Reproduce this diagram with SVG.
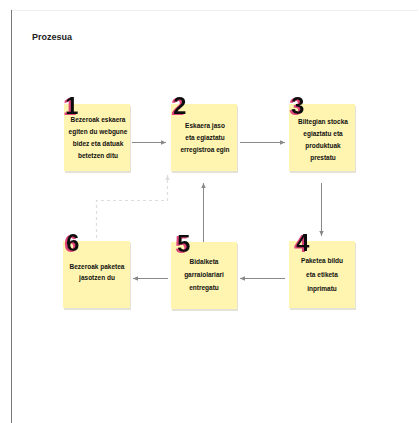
<svg xmlns="http://www.w3.org/2000/svg" width="419" height="423" viewBox="0 0 419 423">
<defs>
<style>
.note{fill:#fff5b0}
.shadow{fill:#e4e2d6}
.num{font-family:"Liberation Sans",Arial,sans-serif;font-weight:bold;font-size:24px;fill:#111;filter:url(#pink)}
.txt{font-family:"Liberation Sans",Arial,sans-serif;font-size:6.5px;fill:#111;text-anchor:middle;font-weight:bold}
.conn{stroke:#888;stroke-width:1;fill:none}
.dash{stroke:#ddd;stroke-width:1.2;fill:none;stroke-dasharray:3,3}
.title{font-family:"Liberation Sans",Arial,sans-serif;font-weight:bold;font-size:9px;fill:#222}
</style>
<filter id="pink" x="-30%" y="-30%" width="160%" height="160%">
<feOffset in="SourceAlpha" dx="-2.5" dy="1" result="off"/>
<feFlood flood-color="#e0447a" result="col"/>
<feComposite in="col" in2="off" operator="in" result="sh"/>
<feMerge><feMergeNode in="sh"/><feMergeNode in="SourceGraphic"/></feMerge>
</filter>
<marker id="ah" markerWidth="6" markerHeight="6" refX="5" refY="3" orient="auto" markerUnits="userSpaceOnUse">
<path d="M0,0.8 L5,3 L0,5.2 Z" fill="#888"/>
</marker>
<marker id="ahl" markerWidth="6" markerHeight="6" refX="5" refY="3" orient="auto" markerUnits="userSpaceOnUse">
<path d="M0,0.8 L5,3 L0,5.2 Z" fill="#ddd"/>
</marker>
</defs>
<rect x="0" y="0" width="419" height="423" fill="#fff"/>
<line x1="11" y1="10.5" x2="418" y2="10.5" stroke="#eee" stroke-width="1"/>
<line x1="11.5" y1="10" x2="11.5" y2="423" stroke="#777" stroke-width="1"/>
<text class="title" x="32" y="40">Prozesua</text>

<g id="connectors">
<line class="conn" x1="132" y1="142.5" x2="166" y2="142.5" marker-end="url(#ah)"/>
<line class="conn" x1="240" y1="142.5" x2="285" y2="142.5" marker-end="url(#ah)"/>
<line class="conn" x1="321.5" y1="183" x2="321.5" y2="236" marker-end="url(#ah)"/>
<line class="conn" x1="285" y1="278.5" x2="240" y2="278.5" marker-end="url(#ah)"/>
<line class="conn" x1="168" y1="278.5" x2="133" y2="278.5" marker-end="url(#ah)"/>
<line class="conn" x1="203.5" y1="243" x2="203.5" y2="183" marker-end="url(#ah)"/>
<polyline class="dash" points="96.5,238 96.5,200.5 167.5,200.5 167.5,175" marker-end="url(#ahl)"/>
</g>

<g id="note1">
<rect class="shadow" x="65" y="106" width="66" height="67"/>
<rect class="note" x="64" y="104" width="66" height="67"/>
<text class="num" x="65" y="114">1</text>
<text class="txt" x="98" y="122">Bezeroak eskaera</text>
<text class="txt" x="98" y="134">egiten du webgune</text>
<text class="txt" x="98" y="146">bidez eta datuak</text>
<text class="txt" x="98" y="158">betetzen ditu</text>
</g>

<g id="note2">
<rect class="shadow" x="172" y="106" width="66" height="67"/>
<rect class="note" x="171" y="104" width="66" height="67"/>
<text class="num" x="173" y="114">2</text>
<text class="txt" x="205" y="128">Eskaera jaso</text>
<text class="txt" x="205" y="140">eta egiaztatu</text>
<text class="txt" x="205" y="152">erregistroa egin</text>
</g>

<g id="note3">
<rect class="shadow" x="290" y="106" width="66" height="67"/>
<rect class="note" x="289" y="104" width="66" height="67"/>
<text class="num" x="291" y="114">3</text>
<text class="txt" x="323" y="124">Biltegian stocka</text>
<text class="txt" x="323" y="136">egiaztatu eta</text>
<text class="txt" x="323" y="148">produktuak</text>
<text class="txt" x="323" y="160">prestatu</text>
</g>

<g id="note4">
<rect class="shadow" x="290" y="243" width="66" height="67"/>
<rect class="note" x="289" y="241" width="66" height="67"/>
<text class="num" x="296" y="251">4</text>
<text class="txt" x="322" y="263">Paketea bildu</text>
<text class="txt" x="322" y="277">eta etiketa</text>
<text class="txt" x="322" y="291">inprimatu</text>
</g>

<g id="note5">
<rect class="shadow" x="172" y="244" width="66" height="67"/>
<rect class="note" x="171" y="242" width="66" height="67"/>
<text class="num" x="177" y="252">5</text>
<text class="txt" x="204" y="264">Bidalketa</text>
<text class="txt" x="204" y="277">garraiolariari</text>
<text class="txt" x="204" y="290">entregatu</text>
</g>

<g id="note6">
<rect class="shadow" x="64" y="243" width="67" height="67"/>
<rect class="note" x="63" y="241" width="67" height="67"/>
<text class="num" x="66" y="251">6</text>
<text class="txt" x="97" y="269">Bezeroak paketea</text>
<text class="txt" x="97" y="280">jasotzen du</text>
</g>
</svg>
